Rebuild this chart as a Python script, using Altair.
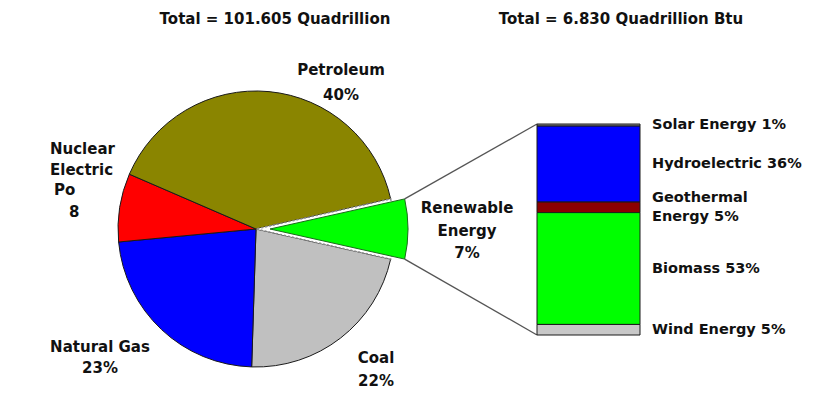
import math
import altair as alt
import pandas as pd

# ---------------- data ----------------
pie_names = ["Renewable Energy", "Coal", "Natural Gas", "Nuclear Electric Power", "Petroleum"]
pie_pct = [7, 22, 23, 8, 40]
pie_colors = ["#00FF00", "#C0C0C0", "#0000FF", "#FF0000", "#8A8500"]

bar_names = ["Solar Energy", "Hydroelectric", "Geothermal\n Energy", "Biomass", "Wind Energy"]
bar_pct = [1, 36, 5, 53, 5]
bar_colors = ["#8C8C8C", "#0000FF", "#8B0000", "#00FF00", "#C8C8C8"]

titles = ["Total = 101.605 Quadrillion", "Total = 6.830 Quadrillion Btu"]

# ---------------- layout ----------------
CX, CY, R = 248, 221, 138          # pie centre / radius (px)
EXPLODE = 14                        # offset of the renewable slice
BAR_X0, BAR_X1 = 529, 632
BAR_TOP, BAR_BOT = 116, 327
FONT = "DejaVu Sans"
FS = 15
FS_BAR = 14.5

# pie table
starts, ends, acc = [], [], 0
for p in pie_pct:
    starts.append(acc)
    acc += p
    ends.append(acc)
pie_df = pd.DataFrame({"name": pie_names, "pct": pie_pct, "start": starts,
                       "end": ends, "color": pie_colors})

start_angle = math.radians(90) - math.radians(pie_pct[0] * 3.6 / 2)
theta_scale = alt.Scale(domain=[0, 100], range=[start_angle, start_angle + 2 * math.pi])

# bar table (top to bottom)
his, los, acc = [], [], 100
for p in bar_pct:
    his.append(acc)
    acc -= p
    los.append(acc)
bar_df = pd.DataFrame({"name": bar_names, "pct": bar_pct, "hi": his, "lo": los,
                       "color": bar_colors})
bar_df["mid"] = (bar_df["hi"] + bar_df["lo"]) / 2
bar_df["label"] = [f"{n}  {p}%" if i != 1 else f"{n} {p}%"
                   for i, (n, p) in enumerate(zip(bar_names, bar_pct))]
bar_df["multi"] = bar_df["label"].str.contains("\n")
y_scale = alt.Scale(domain=[0, 100], range=[BAR_BOT, BAR_TOP])

# connectors from exploded slice corners to bar corners
a0 = start_angle
a1 = start_angle + pie_pct[0] / 100 * 2 * math.pi
conn_df = pd.DataFrame({
    "x": [CX + EXPLODE + R * math.sin(a0), CX + EXPLODE + R * math.sin(a1)],
    "y": [CY - R * math.cos(a0), CY - R * math.cos(a1)],
    "x2": [BAR_X0, BAR_X0],
    "y2": [BAR_TOP, BAR_BOT],
})

theta_enc = dict(theta=alt.Theta("start:Q", scale=theta_scale),
                 theta2=alt.Theta2("end:Q"),
                 color=alt.Color("color:N", scale=None))

main_pie = alt.Chart(pie_df[pie_df["name"] != pie_names[0]]).mark_arc(
    radius=R, stroke="#1a1a1a", strokeWidth=1
).encode(x=alt.value(CX), y=alt.value(CY), **theta_enc)

slot = alt.Chart(pie_df[pie_df["name"] == pie_names[0]]).mark_arc(
    radius=R, fill="white", stroke="#8a8a8a", strokeWidth=1.5, strokeDash=[2, 2]
).encode(x=alt.value(CX), y=alt.value(CY),
         theta=alt.Theta("start:Q", scale=theta_scale), theta2=alt.Theta2("end:Q"))

renew = alt.Chart(pie_df[pie_df["name"] == pie_names[0]]).mark_arc(
    radius=R, stroke="#1a6b1a", strokeWidth=1
).encode(x=alt.value(CX + EXPLODE), y=alt.value(CY), **theta_enc)

connectors = alt.Chart(conn_df).mark_rule(color="#555555", strokeWidth=1.3).encode(
    x=alt.X("x:Q", scale=None, axis=None), y=alt.Y("y:Q", scale=None, axis=None),
    x2="x2:Q", y2="y2:Q")

bar = alt.Chart(bar_df).mark_rect(stroke="#1a1a1a", strokeWidth=1).encode(
    x=alt.value(BAR_X0), x2=alt.value(BAR_X1),
    y=alt.Y("lo:Q", scale=y_scale, axis=None), y2="hi:Q",
    color=alt.Color("color:N", scale=None))

text_style = dict(align="left", baseline="middle", font=FONT, fontWeight="bold",
                  fontSize=FS_BAR, lineBreak="\n", lineHeight=19, color="#111111")
bar_text1 = alt.Chart(bar_df[~bar_df["multi"]]).mark_text(**text_style).encode(
    x=alt.value(644), y=alt.Y("mid:Q", scale=y_scale, axis=None), text="label:N")
bar_text2 = alt.Chart(bar_df[bar_df["multi"]]).mark_text(dy=-9.5, **text_style).encode(
    x=alt.value(644), y=alt.Y("mid:Q", scale=y_scale, axis=None), text="label:N")


def label(txt, x, y, align="center", lh=22):
    return alt.Chart(pd.DataFrame({"t": [txt]})).mark_text(
        align=align, baseline="middle", font=FONT, fontWeight="bold", fontSize=FS,
        lineBreak="\n", lineHeight=lh, color="#111111"
    ).encode(x=alt.value(x), y=alt.value(y), text="t:N")


pct_text = {n: f"{p}%" for n, p in zip(pie_names, pie_pct)}
labels = [
    label(titles[0], 267, 11),
    label(titles[1], 613, 11),
    label(f"Petroleum\n{pct_text['Petroleum']}", 333, 62, lh=25),
    label("Nuclear\nElectric", 42, 141, align="left", lh=21),
    label("Po", 46, 182, align="left"),
    label(pct_text["Nuclear Electric Power"][:1], 61, 204, align="left"),
    label(f"Natural Gas\n{pct_text['Natural Gas']}", 92, 339, lh=21),
    label(f"Coal\n{pct_text['Coal']}", 368, 350, lh=23),
    label(f"Renewable\nEnergy\n{pct_text['Renewable Energy']}", 459, 200, lh=22.5),
]

chart = alt.layer(main_pie, slot, renew, connectors, bar, bar_text1, bar_text2,
                  *labels).resolve_scale(
    x="independent", y="independent"
).properties(
    width=797, height=386, padding=0, autosize=alt.AutoSizeParams(type="none"),
    background="white"
).configure_view(stroke=None)

chart.save("out.html", embed_options={"renderer": "svg", "actions": False})
